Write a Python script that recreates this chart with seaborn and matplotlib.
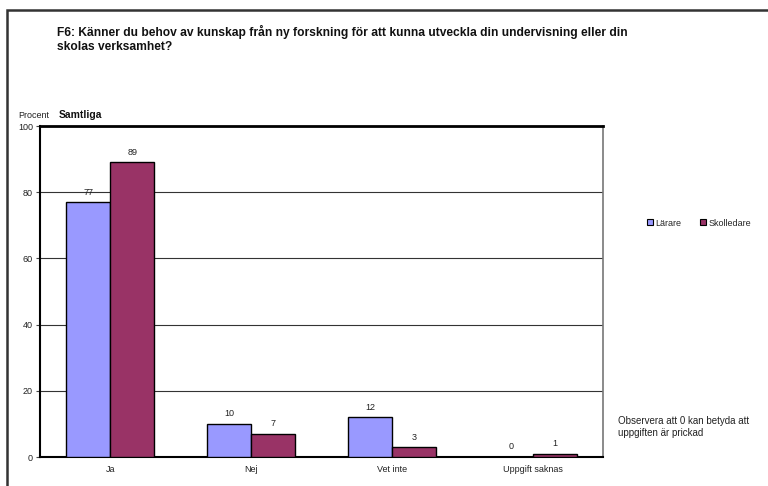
import matplotlib
matplotlib.use("Agg")
import matplotlib.pyplot as plt
from matplotlib.patches import Rectangle
import pandas as pd
import seaborn as sns

categories = ["Ja", "Nej", "Vet inte", "Uppgift saknas"]
larare = [77, 10, 12, 0]
skolledare = [89, 7, 3, 1]
groups = ["Lärare", "Skolledare"]
colors = ["#9999FF", "#993366"]

df = pd.DataFrame({
    "Svar": categories * 2,
    "Procent": larare + skolledare,
    "Grupp": [groups[0]] * len(categories) + [groups[1]] * len(categories),
})

sns.set_theme(style="white")
plt.rcParams["font.family"] = ["Liberation Sans", "DejaVu Sans"]

fig = plt.figure(figsize=(7.68, 4.86), dpi=100)
ax = fig.add_axes([40 / 768, 29 / 486, 563 / 768, 331 / 486])

sns.barplot(data=df, x="Svar", y="Procent", hue="Grupp", order=categories,
            hue_order=groups, palette=colors, width=0.625, edgecolor="black",
            linewidth=1.0, saturation=1, ax=ax, legend=False, zorder=3)

for container in ax.containers:
    ax.bar_label(container, fmt="%g", padding=4, fontsize=6.5, color="#222222")

ax.set_ylim(0, 100)
ax.set_yticks([0, 20, 40, 60, 80, 100])
ax.set_xlim(-0.5, 3.5)
ax.yaxis.grid(True, color="#333333", linewidth=0.8, zorder=0)
ax.set_axisbelow(True)
ax.set_xlabel("")
ax.set_ylabel("")
ax.tick_params(axis="y", labelsize=6.5, length=3, width=0.8, color="#444444",
               left=True, pad=2, labelcolor="#222222")
ax.tick_params(axis="x", labelsize=6.5, length=0, pad=6, labelcolor="#222222")

for side in ["left", "bottom"]:
    ax.spines[side].set_color("black")
    ax.spines[side].set_linewidth(1.5)
ax.spines["top"].set_color("black")
ax.spines["top"].set_linewidth(2.0)
ax.spines["right"].set_color("#777777")
ax.spines["right"].set_linewidth(1.2)

# Outer frame around the chart
fig.add_artist(Rectangle((7 / 768, -0.1), 1.2, 1.1 - 10 / 486,
                         transform=fig.transFigure, fill=False,
                         edgecolor="#333333", linewidth=1.8))

fig.text(57 / 768, 1 - 39 / 486,
         "F6: Känner du behov av kunskap från ny forskning för att kunna utveckla din undervisning eller din\nskolas verksamhet?",
         fontsize=8.65, fontweight="bold", va="center", ha="left",
         linespacing=1.3, color="#111111")
fig.text(18 / 768, 1 - 115 / 486, "Procent", fontsize=6.5, va="center",
         ha="left", color="#222222")
fig.text(59 / 768, 1 - 115 / 486, "Samtliga", fontsize=7.5, fontweight="bold",
         va="center", ha="left", color="#111111")

handles = [Rectangle((0, 0), 1, 1, facecolor=c, edgecolor="black", linewidth=0.8)
           for c in colors]
fig.legend(handles, groups, loc="center left", bbox_to_anchor=(643 / 768, 1 - 223 / 486),
           ncol=2, frameon=False, fontsize=6.5, handlelength=0.7, handleheight=0.7,
           handletextpad=0.3, columnspacing=2.0, borderaxespad=0)

fig.text(618 / 768, 1 - 427 / 486,
         "Observera att 0 kan betyda att\nuppgiften är prickad",
         fontsize=7, va="center", ha="left", color="#222222", linespacing=1.2)

fig.savefig("out.png", dpi=100)
